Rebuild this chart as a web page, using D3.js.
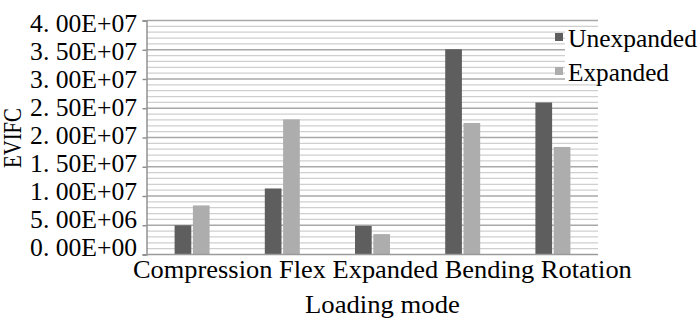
<!DOCTYPE html>
<html>
<head>
<meta charset="utf-8">
<script src="https://d3js.org/d3.v7.min.js"></script>
</head>
<body style="margin:0; background:#fff">
<svg id="vis"></svg>
<script>
    const categories = ["Compression", "Flex", "Expanded", "Bending", "Rotation"]
    const seriesNames = ["Unexpanded", "Expanded"]
    const unexpanded = [4.9e6, 11.2e6, 4.8e6, 35.0e6, 25.9e6]
    const expanded = [8.3e6, 23.0e6, 3.4e6, 22.4e6, 18.3e6]
    const yTicks = [0, 5e6, 1e7, 1.5e7, 2e7, 2.5e7, 3e7, 3.5e7, 4e7]
    const yTitle = "EVIFC"
    const xTitle = "Loading  mode"

    const colors = ["#5e5e5e", "#adadad"]
    const font = "'Liberation Serif'"
    const width = 700, height = 324

    let svg = d3.select('#vis')
        .attr("width", width)
        .attr("height", height)

    let x = d3.scaleBand()
        .domain(categories)
        .range([147, 598])
        .paddingInner(0.612)
        .paddingOuter(0.306)

    let xs = d3.scaleBand()
        .domain(seriesNames)
        .range([0, x.bandwidth()])

    let y = d3.scaleLinear()
        .domain([0, 4e7])
        .range([254, 20])

    // labels sit slightly off the tick marks in the original
    let yLab = d3.scaleLinear()
        .domain([0, 4e7])
        .range([247, 23.7])

    // minor + major grid
    let minor = d3.range(0, 4e7 + 1, 1e6).filter(v => v % 5e6 !== 0)
    svg.append('g').selectAll('line')
        .data(minor)
        .enter().append('line')
        .attr('x1', 147).attr('x2', 598)
        .attr('y1', d => y(d) + 0.5).attr('y2', d => y(d) + 0.5)
        .attr('stroke', '#cfcfcf')
        .attr('stroke-width', 1.3)

    svg.append('g').selectAll('line')
        .data(yTicks.filter(v => v > 0))
        .enter().append('line')
        .attr('x1', 147).attr('x2', 598)
        .attr('y1', d => y(d) + 0.5).attr('y2', d => y(d) + 0.5)
        .attr('stroke', '#a8a8a8')
        .attr('stroke-width', 1.3)

    // legend background covers the grid on the right
    svg.append('rect')
        .attr('x', 565).attr('y', 28)
        .attr('width', 135).attr('height', 52)
        .attr('fill', 'white')

    // bars
    let data = categories.map((c, i) => ({ cat: c, vals: [unexpanded[i], expanded[i]] }))
    let groups = svg.append('g').selectAll('g')
        .data(data)
        .enter().append('g')
        .attr('transform', d => 'translate(' + x(d.cat) + ',0)')

    groups.selectAll('rect')
        .data(d => d.vals.map((v, j) => ({ name: seriesNames[j], v: v, j: j })))
        .enter().append('rect')
        .attr('x', d => xs(d.name) + (d.j === 1 ? 0.8 : 0))
        .attr('width', xs.bandwidth() - 0.8)
        .attr('y', d => y(d.v))
        .attr('height', d => y(0) - y(d.v))
        .attr('fill', (d) => colors[d.j])

    // axes
    let yAxis = svg.append('g')
        .attr('transform', 'translate(146.5,0.5)')
        .call(d3.axisLeft(y).tickValues(yTicks).tickSize(4).tickFormat(''))
    yAxis.selectAll('path,line').attr('stroke', '#8a8a8a').attr('stroke-width', 1.4)

    svg.append('line')
        .attr('x1', 146).attr('x2', 598)
        .attr('y1', y(0) + 0.5).attr('y2', y(0) + 0.5)
        .attr('stroke', '#9a9a9a')
        .attr('stroke-width', 1.4)

    function fmt(v) {
        let parts = v.toExponential(2).split('e')
        let ex = +parts[1]
        return parts[0].replace('.', '. ') + 'E' + (ex < 0 ? '-' : '+') + String(Math.abs(ex)).padStart(2, '0')
    }

    // text at (px,py), stretched sideways to the width seen in the source picture
    function label(str, px, py, size, w, anchor, rot) {
        let g = svg.append('g')
        let t = g.append('text')
            .style('font-family', font)
            .style('font-size', size + 'px')
            .attr('fill', '#000')
            .attr('text-anchor', anchor || 'start')
            .text(str)
        let k = w / t.node().getComputedTextLength()
        g.attr('transform', 'translate(' + px + ',' + py + ')' + (rot ? ' rotate(' + rot + ')' : '') + ' scale(' + k + ',1)')
        return t
    }

    yTicks.forEach(v => label(fmt(v), 137, yLab(v) + 8.5, 25.5, 107, 'end'))

    // category labels, written as one line like the original
    label(categories.join(' '), 133, 278, 24.5, 499)

    label(xTitle, 305, 313, 24.5, 155)
    label(yTitle, 21, 168, 24.5, 60, 'start', -90)

    // legend
    seriesNames.forEach((d, i) => {
        svg.append('rect')
            .attr('x', 555).attr('y', 33 + i * 34)
            .attr('width', 8).attr('height', 8)
            .attr('fill', colors[i])
        label(d, 568, 46.5 + i * 34, 24.5, i ? 101 : 129)
    })
</script>
</body>
</html>
